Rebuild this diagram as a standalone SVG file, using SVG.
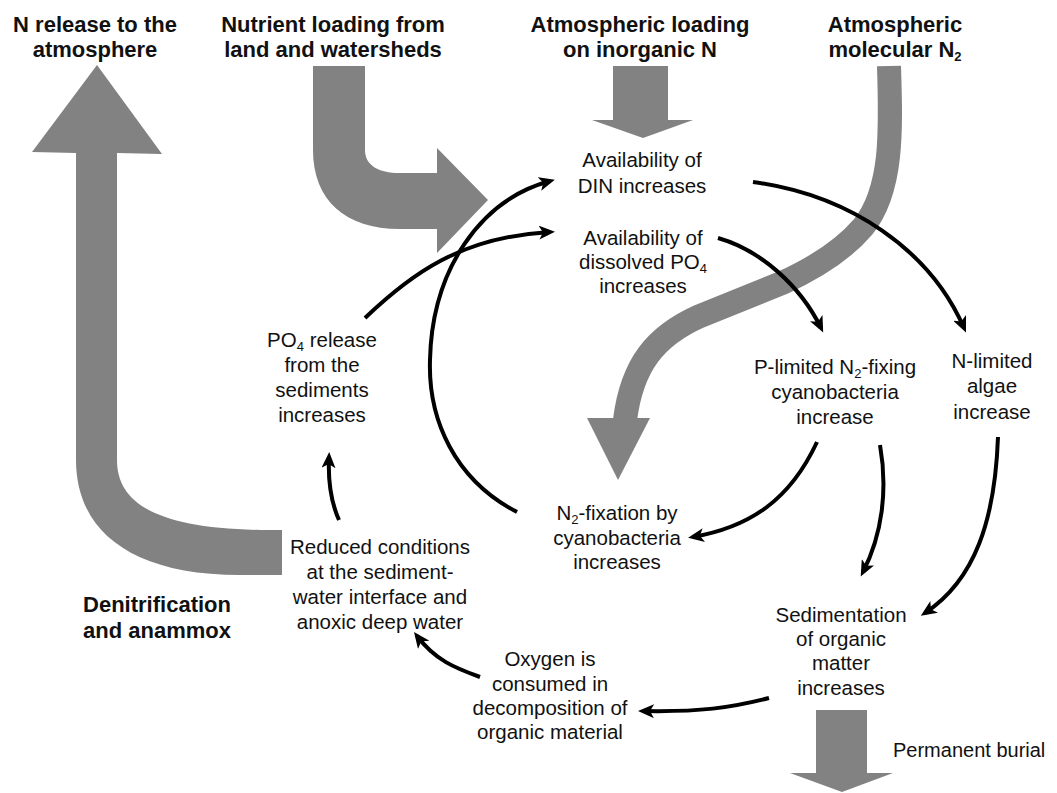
<svg xmlns="http://www.w3.org/2000/svg" width="1057" height="793" viewBox="0 0 1057 793">
<style>
.hd{font-family:"Liberation Sans",Arial,sans-serif;font-weight:bold;font-size:22px;fill:#111;text-anchor:middle}
.tx{font-family:"Liberation Sans",Arial,sans-serif;font-size:20.5px;fill:#111;text-anchor:middle}
.sub{font-size:13px}
.flow{fill:#828282;stroke:none}
.band{fill:none;stroke:#828282;stroke-width:24}
.con{fill:none;stroke:#000;stroke-width:4;marker-end:url(#ah)}
</style>
<defs>
<marker id="ah" markerUnits="userSpaceOnUse" markerWidth="18" markerHeight="14" refX="11" refY="7" orient="auto">
<path d="M0,0 L16,7 L0,14 L4,7 Z" fill="#000"/>
</marker>
</defs>
<rect width="1057" height="793" fill="#fff"/>
<g id="connectors">
<g id="flows">
<path id="flow-n-release" class="flow" d="M282,530 L260,530 C160,528 117,505 117,460 L117,153 L162,154 L97,65 L32,152 L76,153 L76,460 C76,530 130,575 240,575 L282,575 Z"/>
<path id="flow-nutrient" class="flow" d="M313,66 L365,66 L365,150 C365,165 378,173 400,173 L437,173 L437,148 L488,200 L437,253 L437,229 L400,229 C345,229 313,200 313,150 Z"/>
<path id="flow-atm-loading" class="flow" d="M613,66 L668,66 L668,120 L693,120 L643,138 L592,120 L613,120 Z"/>
<path id="flow-n2-band" class="band" d="M889,66 C891,130 893,190 863,227 C845,248 815,268 782,283 L700,316 C655,336 632,365 625,420"/>
<path id="flow-n2-head" class="flow" d="M587,418 L650,418 L618,480 Z"/>
<path id="flow-burial" class="flow" d="M816,710 L867,710 L867,773 L893,773 L842,792 L790,773 L816,773 Z"/>
</g>
<g id="links">
<path class="con" d="M517,512 C455,480 428,420 430,360 C432,270 480,200 550,181"/>
<path class="con" d="M365,318 C410,275 460,237 550,232"/>
<path class="con" d="M753,182 C850,195 930,250 964,328"/>
<path class="con" d="M718,238 C760,250 800,285 821,328"/>
<path class="con" d="M817,442 C790,500 750,527 693,537"/>
<path class="con" d="M880,445 C888,490 882,535 863,572"/>
<path class="con" d="M998,437 C995,520 975,580 925,613"/>
<path class="con" d="M769,698 C730,708 700,712 643,711"/>
<path class="con" d="M480,677 C455,668 435,660 417,636"/>
<path class="con" d="M339,520 C330,500 328,480 329,457"/>
</g>
</g>
<g id="n-release"><text class="hd" x="95" y="32">N release to the</text><text class="hd" x="95" y="57">atmosphere</text></g>
<g id="nutrient-loading"><text class="hd" x="333" y="32">Nutrient loading from</text><text class="hd" x="333" y="57">land and watersheds</text></g>
<g id="atm-loading"><text class="hd" x="640" y="32">Atmospheric loading</text><text class="hd" x="640" y="57">on inorganic N</text></g>
<g id="atm-n2"><text class="hd" x="895" y="32">Atmospheric</text><text class="hd" x="895" y="57">molecular N<tspan class="sub" dy="4">2</tspan></text></g>
<g id="din"><text class="tx" x="642" y="167">Availability of</text><text class="tx" x="642" y="193">DIN increases</text></g>
<g id="po4"><text class="tx" x="643" y="245">Availability of</text><text class="tx" x="643" y="269">dissolved PO<tspan class="sub" dy="4">4</tspan></text><text class="tx" x="643" y="293">increases</text></g>
<g id="po4-release"><text class="tx" x="322" y="347">PO<tspan class="sub" dy="4">4</tspan><tspan dy="-4"> release</tspan></text><text class="tx" x="322" y="372">from the</text><text class="tx" x="322" y="397">sediments</text><text class="tx" x="322" y="422">increases</text></g>
<g id="p-limited"><text class="tx" x="835" y="374">P-limited N<tspan class="sub" dy="4">2</tspan><tspan dy="-4">-fixing</tspan></text><text class="tx" x="835" y="399">cyanobacteria</text><text class="tx" x="835" y="424">increase</text></g>
<g id="n-limited"><text class="tx" x="992" y="368">N-limited</text><text class="tx" x="992" y="393">algae</text><text class="tx" x="992" y="419">increase</text></g>
<g id="n2-fixation"><text class="tx" x="617" y="520">N<tspan class="sub" dy="4">2</tspan><tspan dy="-4">-fixation by</tspan></text><text class="tx" x="617" y="545">cyanobacteria</text><text class="tx" x="617" y="569">increases</text></g>
<g id="reduced"><text class="tx" x="380" y="554">Reduced conditions</text><text class="tx" x="380" y="579">at the sediment-</text><text class="tx" x="380" y="604">water interface and</text><text class="tx" x="380" y="629">anoxic deep water</text></g>
<g id="denitrification"><text class="hd" x="157" y="612">Denitrification</text><text class="hd" x="157" y="638">and anammox</text></g>
<g id="oxygen"><text class="tx" x="550" y="666">Oxygen is</text><text class="tx" x="550" y="691">consumed in</text><text class="tx" x="550" y="715">decomposition of</text><text class="tx" x="550" y="739">organic material</text></g>
<g id="sedimentation"><text class="tx" x="841" y="622">Sedimentation</text><text class="tx" x="841" y="646">of organic</text><text class="tx" x="841" y="670">matter</text><text class="tx" x="841" y="695">increases</text></g>
<g id="burial"><text class="tx" x="893" y="757" style="text-anchor:start;font-size:20px">Permanent burial</text></g>
</svg>
